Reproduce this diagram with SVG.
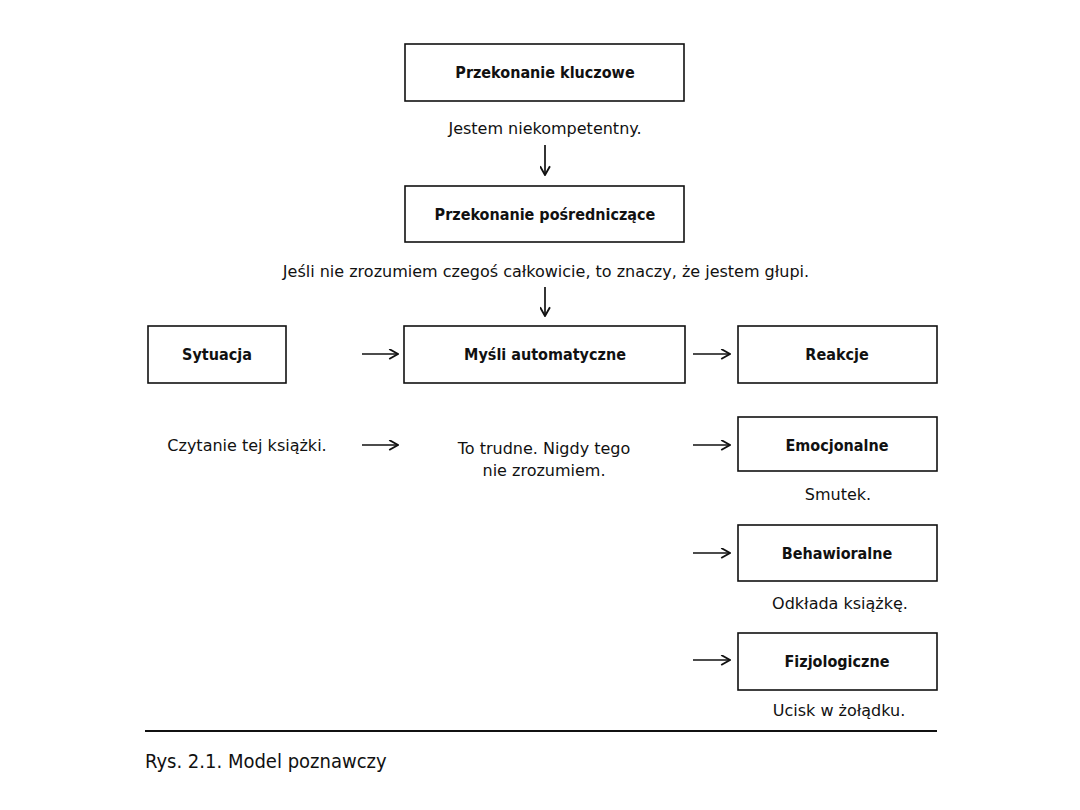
<svg xmlns="http://www.w3.org/2000/svg" width="1080" height="810" viewBox="0 0 1080 810">
<defs>
<marker id="ah" viewBox="0 0 10 10" refX="9" refY="5" markerWidth="11" markerHeight="11" markerUnits="userSpaceOnUse" orient="auto">
<path d="M1,0.5 L9,5 L1,9.5" fill="none" stroke="#111" stroke-width="1.7"/>
</marker>
</defs>
<style>
.box{fill:#fff;stroke:#111;stroke-width:1.6}
.t{font-family:"DejaVu Sans","Noto Sans",sans-serif;font-size:16px;fill:#111;text-anchor:middle}
.b{font-family:"DejaVu Sans Condensed","DejaVu Sans",sans-serif;font-weight:bold}
.c{stroke:#111;stroke-width:1.7;fill:none;marker-end:url(#ah)}
</style>
<rect width="1080" height="810" fill="#fff"/>
<g id="n-kluczowe"><rect class="box" x="405" y="44" width="279" height="57"/><text class="t b" x="545" y="78">Przekonanie kluczowe</text></g>
<text class="t" x="545" y="134">Jestem niekompetentny.</text>
<g id="n-posredniczace"><rect class="box" x="405" y="186" width="279" height="56"/><text class="t b" x="545" y="220">Przekonanie pośredniczące</text></g>
<text class="t" x="546" y="277">Jeśli nie zrozumiem czegoś całkowicie, to znaczy, że jestem głupi.</text>
<g id="n-sytuacja"><rect class="box" x="148" y="326" width="138" height="57"/><text class="t b" x="217" y="360">Sytuacja</text></g>
<g id="n-mysli"><rect class="box" x="404" y="326" width="281" height="57"/><text class="t b" x="545" y="360">Myśli automatyczne</text></g>
<g id="n-reakcje"><rect class="box" x="738" y="326" width="199" height="57"/><text class="t b" x="837" y="360">Reakcje</text></g>
<text class="t" x="247" y="451">Czytanie tej książki.</text>
<text class="t" x="544" y="454">To trudne. Nigdy tego</text>
<text class="t" x="544" y="476">nie zrozumiem.</text>
<g id="n-emocjonalne"><rect class="box" x="738" y="417" width="199" height="54"/><text class="t b" x="837" y="451">Emocjonalne</text></g>
<text class="t" x="838" y="500">Smutek.</text>
<g id="n-behawioralne"><rect class="box" x="738" y="525" width="199" height="56"/><text class="t b" x="837" y="559">Behawioralne</text></g>
<text class="t" x="840" y="609">Odkłada książkę.</text>
<g id="n-fizjologiczne"><rect class="box" x="738" y="633" width="199" height="57"/><text class="t b" x="837" y="667">Fizjologiczne</text></g>
<text class="t" x="839" y="716">Ucisk w żołądku.</text>
<g id="connectors">
<line class="c" x1="545" y1="145" x2="545" y2="175"/>
<line class="c" x1="545" y1="287" x2="545" y2="316"/>
<line class="c" x1="362" y1="354" x2="398" y2="354"/>
<line class="c" x1="693" y1="354" x2="730" y2="354"/>
<line class="c" x1="362" y1="445" x2="398" y2="445"/>
<line class="c" x1="693" y1="445" x2="730" y2="445"/>
<line class="c" x1="693" y1="553" x2="730" y2="553"/>
<line class="c" x1="693" y1="660" x2="730" y2="660"/>
</g>
<line x1="145" y1="731" x2="937" y2="731" stroke="#111" stroke-width="2"/>
<text x="145" y="768" style="font-family:'DejaVu Sans Condensed','DejaVu Sans',sans-serif;font-size:20px;fill:#111">Rys. 2.1. Model poznawczy</text>
</svg>
